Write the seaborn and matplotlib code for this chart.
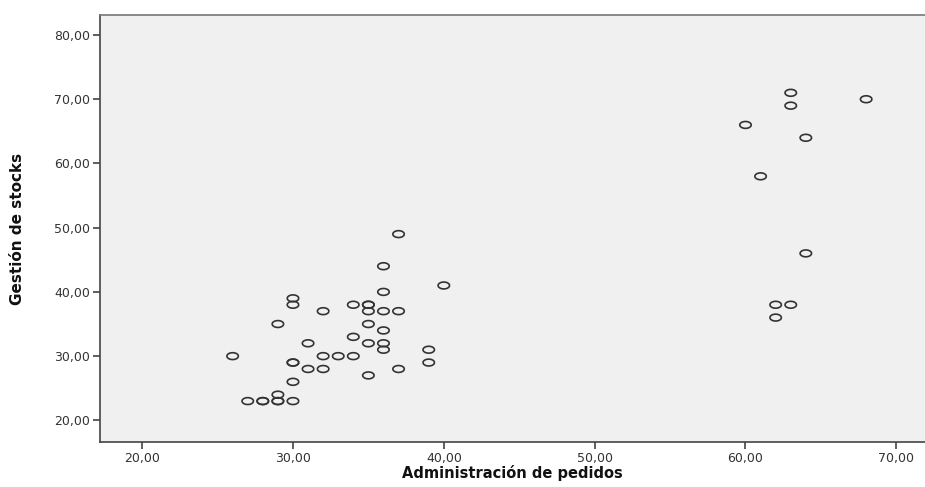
import numpy as np
import pandas as pd
import matplotlib
matplotlib.use("Agg")
import matplotlib.pyplot as plt
import seaborn as sns

# values (duplicates = points drawn twice, they look darker)
admin_pedidos = [26, 27, 28, 28, 29, 29, 30, 29, 29, 30, 30, 30, 30, 30,
                 31, 31, 32, 32, 32, 33, 34, 34, 34,
                 35, 35, 35, 35, 35, 35, 36, 36, 36, 36, 36, 36,
                 37, 37, 37, 39, 39, 40,
                 60, 61, 62, 62, 63, 63, 63, 64, 64, 68]
gestion_stocks = [30, 23, 23, 23, 23, 23, 23, 24, 35, 26, 29, 29, 38, 39,
                  32, 28, 28, 30, 37, 30, 30, 33, 38,
                  27, 32, 35, 37, 38, 38, 31, 32, 34, 37, 40, 44,
                  28, 37, 49, 29, 31, 41,
                  66, 58, 36, 38, 38, 69, 71, 46, 64, 70]

x_ticks = [20, 30, 40, 50, 60, 70]
y_ticks = [20, 30, 40, 50, 60, 70, 80]

df = pd.DataFrame({"Administración de pedidos": admin_pedidos,
                   "Gestión de stocks": gestion_stocks})

sns.set_style("white")
plt.rcParams["font.family"] = ["DejaVu Sans"]

fig = plt.figure(figsize=(9.25, 4.87), dpi=100)
ax = fig.add_axes([0.108, 0.092, 0.892, 0.877])
ax.set_facecolor("#f0f0f0")

# the reference looks stretched sideways, so the circles are little ellipses
t = np.linspace(0, 2 * np.pi, 40)
ellipse = list(zip(np.cos(t), 0.6 * np.sin(t)))

sns.scatterplot(data=df, x="Administración de pedidos", y="Gestión de stocks",
                marker=ellipse, s=68, facecolors="none", edgecolor="#333333",
                linewidth=1.2, ax=ax)

ax.set_xlim(17.2, 71.9)
ax.set_ylim(16.6, 83.1)
ax.set_xticks(x_ticks)
ax.set_yticks(y_ticks)
ax.set_xticklabels([f"{v},00" for v in x_ticks])
ax.set_yticklabels([f"{v},00" for v in y_ticks])
ax.tick_params(axis="both", direction="out", length=5, width=1.1, color="#333333",
               labelsize=9, labelcolor="#333333", pad=2, left=True, bottom=True)

for side in ["left", "bottom"]:
    ax.spines[side].set_color("#444444")
    ax.spines[side].set_linewidth(1.2)
ax.spines["top"].set_color("#777777")
ax.spines["top"].set_linewidth(1.2)
ax.spines["right"].set_visible(False)

ax.set_xlabel("Administración de pedidos", fontsize=10.5, fontweight="bold",
              color="#111111", labelpad=0)
ax.set_ylabel("Gestión de stocks", fontsize=11, fontweight="bold",
              color="#111111", labelpad=21)

fig.savefig("out.png", dpi=100)
